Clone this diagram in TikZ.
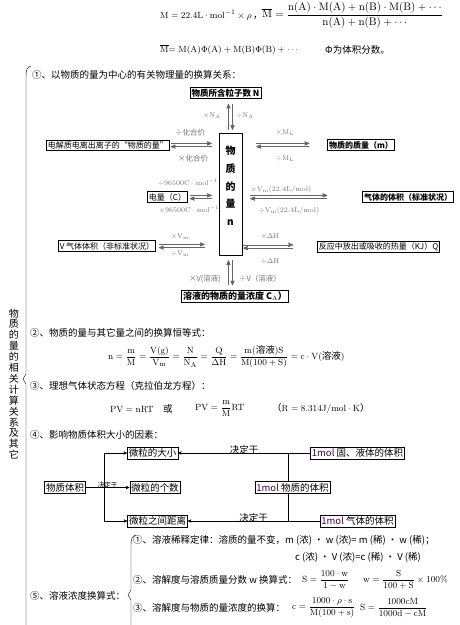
\documentclass[tikz,border=0pt]{standalone}
\usepackage{amsmath}
\usepackage{amssymb}
\usepackage[no-math]{fontspec}
\setmainfont{Noto Sans CJK SC}
\usepackage{tikz}
\usetikzlibrary{arrows,positioning,calc}

\begin{document}
\begin{tikzpicture}[x=1pt,y=-1pt,>=stealth',
every node/.style={inner sep=0pt,font=\fontsize{9.5}{11}\selectfont},
line/.style={anchor=west},
box/.style={draw=black,inner sep=1.5pt,font=\fontsize{8}{9}\selectfont},
factor/.style={draw=black,inner sep=1.5pt,font=\fontsize{9.5}{11}\selectfont},
lbl/.style={text=black!55,font=\fontsize{7.5}{8}\selectfont},
pair/.style={thick,black!60},
link/.style={thin,black}]
\useasboundingbox (0,0) rectangle (460,625);

% formulas on top
\node[line] (molar) at (160,15) {$\mathrm{M=22.4L\cdot mol^{-1}\times\rho}$\,，};
\node[line,font=\fontsize{10.5}{12}\selectfont] (mean) at (262,15) {$\overline{\mathrm{M}}=\dfrac{\mathrm{n(A)\cdot M(A)+n(B)\cdot M(B)+\cdots}}{\mathrm{n(A)+n(B)+\cdots}}$};
\node[line] (meanphi) at (160,50) {$\overline{\mathrm{M}}\mathrm{=M(A)\Phi(A)+M(B)\Phi(B)+\cdots}$};
\node[line] (phi) at (325,50) {Φ为体积分数。};

% left brace and side title
\draw[link] (31,66) .. controls (27,67) and (26,70) .. (26,76) -- (26,374) -- (23,379) -- (26,384) -- (26,625);
\node[align=center,font=\fontsize{10}{10.9}\selectfont] (sidelabel) at (14,384)
  {物\\质\\的\\量\\的\\相\\关\\计\\算\\关\\系\\及\\其\\它};

% (1) conversions around n
\node[line] (sec1) at (32,75) {①、以物质的量为中心的有关物理量的换算关系：};
\node[draw,minimum width=23pt,minimum height=122pt] (amount) at (230.5,194) {};
\node[align=center,font=\fontsize{10}{17.7}\selectfont\bfseries] (amounttxt) at (230.5,186) {物\\质\\的\\量\\n};

\node[box,font=\fontsize{8.5}{9}\selectfont\bfseries] (partN) at (225.5,93) {物质所含粒子数 N};
\node[box] (ionbox) at (108,145) {电解质电离出离子的“物质的量”};
\node[box,font=\fontsize{8}{9}\selectfont\bfseries] (massbox) at (361,145) {物质的质量（m）};
\node[box] (chargebox) at (167.5,197) {电量（C）};
\node[box,font=\fontsize{8}{9}\selectfont\bfseries] (gasstd) at (408,197) {气体的体积（标准状况）};
\node[box] (gasnon) at (107,246) {V 气体体积（非标准状况）};
\node[box] (heatbox) at (378.5,246.5) {反应中放出或吸收的热量（KJ）Q};
\node[box,font=\fontsize{9}{10}\selectfont\bfseries] (concbox) at (235,296.5) {溶液的物质的量浓度 C$_\mathrm{A}$）};

\foreach \l/\r/\b/\s/\t in {ionbox/amount/ionbox/1/7, chargebox/amount/chargebox/2/7,
    gasnon/amount/gasnon/3/14, amount/massbox/massbox/14/18,
    amount/gasstd/gasstd/8/35, amount/heatbox/heatbox/1/24}{
  \draw[pair,->,shorten <=\s pt,shorten >=\t pt] ($(\l.east |- \b)+(0,-1.6)$) -- ($(\r.west |- \b)+(0,-1.6)$);
  \draw[pair,<-,shorten <=\s pt,shorten >=\t pt] ($(\l.east |- \b)+(0,1.6)$) -- ($(\r.west |- \b)+(0,1.6)$);
}
\draw[pair,->,shorten <=3pt,shorten >=5pt] ($(amount.north)+(-2,0)$) -- ($(amount.north |- partN.south)+(-2,0)$);
\draw[pair,<-,shorten <=3pt,shorten >=5pt] ($(amount.north)+(2,0)$) -- ($(amount.north |- partN.south)+(2,0)$);
\draw[pair,->,shorten <=5pt,shorten >=5pt] ($(amount.south |- concbox.north)+(-2,0)$) -- ($(amount.south)+(-2,0)$);
\draw[pair,<-,shorten <=5pt,shorten >=5pt] ($(amount.south |- concbox.north)+(2,0)$) -- ($(amount.south)+(2,0)$);

\node[lbl] (mulNA) at (212,116) {$\times\mathrm{N_A}$};
\node[lbl] (divNA) at (245,116) {$\div\mathrm{N_A}$};
\node[lbl] (divval) at (190,133) {÷化合价};
\node[lbl] (mulval) at (193,159) {×化合价};
\node[lbl] (mulM) at (285,133) {$\times\mathrm{M_L}$};
\node[lbl] (divM) at (285,159) {$\div\mathrm{M_L}$};
\node[lbl] (divF) at (188,183) {$\div\mathrm{96500C\cdot mol^{-1}}$};
\node[lbl] (mulF) at (189,210) {$\times\mathrm{96500C\cdot mol^{-1}}$};
\node[lbl] (mulVmstd) at (281,190) {$\times\mathrm{V_m(22.4L/mol)}$};
\node[lbl] (divVmstd) at (289,211) {$\div\mathrm{V_m(22.4L/mol)}$};
\node[lbl] (mulVm) at (180,237) {$\times\mathrm{V_m}$};
\node[lbl] (divVm) at (180,254) {$\div\mathrm{V_m}$};
\node[lbl] (mulH) at (270,237) {$\times\Delta\mathrm{H}$};
\node[lbl] (divH) at (270,262) {$\div\Delta\mathrm{H}$};
\node[lbl] (mulV) at (205,279) {×V(溶液)};
\node[lbl] (divV) at (260,279) {÷V（溶液）};

% (2) and (3)
\node[line] (sec2) at (30,333) {②、物质的量与其它量之间的换算恒等式：};
\node[line] (identity) at (108,357) {$\mathrm{n=\dfrac{m}{M}=\dfrac{V(g)}{V_m}=\dfrac{N}{N_A}=\dfrac{Q}{\Delta H}=\dfrac{m(\text{溶液})S}{M(100+S)}=c\cdot V(\text{溶液})}$};
\node[line] (sec3) at (30,386) {③、理想气体状态方程（克拉伯龙方程）：};
\node[line] (pvn) at (110,409) {$\mathrm{PV=nRT}$};
\node[line] (orword) at (163,409) {或};
\node[line] (pvm) at (195,409) {$\mathrm{PV=\dfrac{m}{M}RT}$};
\node[line] (gasR) at (272,409) {（$\mathrm{R=8.314J/mol\cdot K}$）};

% (4) factors of volume
\node[line] (sec4) at (30,435) {④、影响物质体积大小的因素：};
\node[factor] (fsize) at (152.5,453) {微粒的大小};
\node[factor] (vol) at (65,487.5) {物质体积};
\node[factor] (fcount) at (155,487.5) {微粒的个数};
\node[factor] (fdist) at (157.5,521) {微粒之间距离};
\node[factor] (solidvol) at (357.5,453) {\textcolor{violet!55!black}{1mol} 固、液体的体积};
\node[factor] (molvol) at (292.5,487.5) {\textcolor{violet!55!black}{1mol} 物质的体积};
\node[factor] (gasvol) at (357.5,521) {\textcolor{violet!55!black}{1mol} 气体的体积};
\coordinate (lfork) at (104,487.5);
\coordinate (rfork) at (288,487.5);

\draw[link,->] (vol.east) -- node[above=-1pt,font=\fontsize{6.5}{7}\selectfont] (dec1) {决定于} (fcount.west);
\draw[link,->] (lfork |- fsize) -- (fsize.west);
\draw[link] (lfork |- fsize) -- (lfork |- fdist);
\draw[link,->] (lfork |- fdist) -- (fdist.west);
\draw[link,->] (solidvol.west) -- node[above=-1pt] (dec2) {决定于} (fsize.east);
\draw[link,->] (gasvol.west) -- node[above=-1pt] (dec3) {决定于} (fdist.east);
\draw[link] (rfork |- fsize) -- (rfork |- molvol.north);
\draw[link] (rfork |- molvol.south) -- (rfork |- fdist);

% (5) solution concentration
\draw[link] (136,535) .. controls (132,536) and (131,539) .. (131,545) -- (131,590) -- (128,595) -- (131,600) -- (131,625);
\node[line] (sec5) at (30,596) {⑤、溶液浓度换算式：};
\node[line] (sub1) at (133,540) {①、溶液稀释定律：溶质的量不变，m (浓) · w (浓)= m (稀) · w (稀)；};
\node[line] (sub1b) at (295,557) {c (浓) · V (浓)=c (稀) · V (稀)};
\node[line] (sub2) at (133,580) {②、溶解度与溶质质量分数 w 换算式：};
\node[line] (sfromw) at (302,580) {$\mathrm{S=\dfrac{100\cdot w}{1-w}}$};
\node[line] (wfroms) at (363,580) {$\mathrm{w=\dfrac{S}{100+S}\times100\%}$};
\node[line] (sub3) at (133,608) {③、溶解度与物质的量浓度的换算：};
\node[line] (cfroms) at (292,608) {$\mathrm{c=\dfrac{1000\cdot\rho\cdot s}{M(100+s)}}$};
\node[line] (sfromc) at (360,608) {$\mathrm{S=\dfrac{1000cM}{1000d-cM}}$};
\end{tikzpicture}
\end{document}
